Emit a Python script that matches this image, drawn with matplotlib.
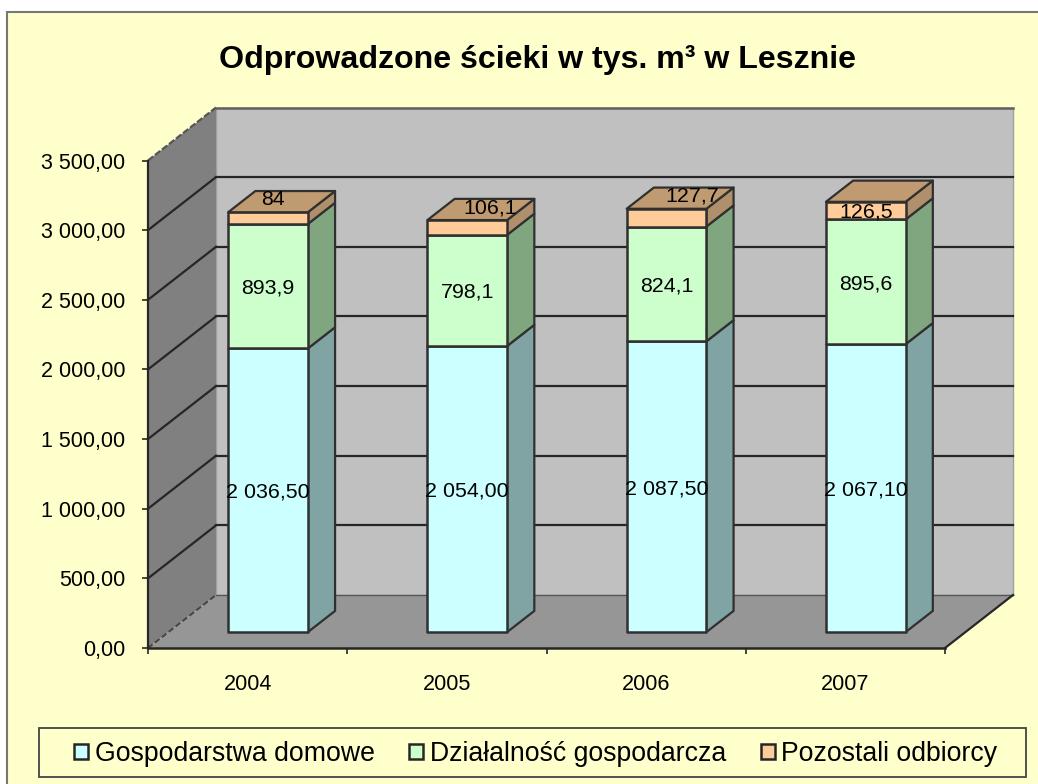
import matplotlib
matplotlib.use("Agg")
import matplotlib.pyplot as plt
from matplotlib.patches import Polygon, Rectangle, Patch
from matplotlib.transforms import Affine2D

plt.rcParams['font.family'] = ['Liberation Sans', 'DejaVu Sans']

years = ['2004', '2005', '2006', '2007']
series_names = ['Gospodarstwa domowe', 'Działalność gospodarcza', 'Pozostali odbiorcy']
domowe = [2036.5, 2054.0, 2087.5, 2067.1]
dzialalnosc = [893.9, 798.1, 824.1, 895.6]
pozostali = [84, 106.1, 127.7, 126.5]
labels_domowe = ['2 036,50', '2 054,00', '2 087,50', '2 067,10']
labels_dzial = ['893,9', '798,1', '824,1', '895,6']
labels_poz = ['84', '106,1', '127,7', '126,5']
y_ticks = [0, 500, 1000, 1500, 2000, 2500, 3000, 3500]
y_tick_labels = ['0,00', '500,00', '1 000,00', '1 500,00', '2 000,00', '2 500,00', '3 000,00', '3 500,00']
poz_label_shift = [(5, 19), (23, 19), (26, 22), (0, -1)]

W, H = 1038, 784
BG = '#FFFFCC'
fig = plt.figure(figsize=(W / 100, H / 100), dpi=100, facecolor='white')

# chart area
fig.add_artist(Rectangle((7 / W, -0.02), 1.1, (H - 12) / H + 0.02, transform=fig.transFigure,
                         fc=BG, ec='#777777', lw=1.5, zorder=-10))

ax = fig.add_axes([148 / W, (H - 648) / H, (945 - 148) / W, (648 - 160.5) / H])
ax.set_xlim(0, 4)
ax.set_ylim(0, 3500)
ax.patch.set_visible(False)
for s in ax.spines.values():
    s.set_visible(False)

DX, DY = 68, 53  # chart depth, display pixels


def depth(f):
    return ax.transData + Affine2D().translate(DX * f, DY * f)


def quad(x0, y0, f0, x1, y1, f1, x2, y2, f2, x3, y3, f3, **kw):
    pts = []
    for x, y, f in ((x0, y0, f0), (x1, y1, f1), (x2, y2, f2), (x3, y3, f3)):
        pts.append(depth(f).transform((x, y)))
    p = Polygon(pts, closed=True, transform=None, clip_on=False, **kw)
    fig.add_artist(p)
    return p


def seg(x0, y0, f0, x1, y1, f1, **kw):
    a = depth(f0).transform((x0, y0))
    b = depth(f1).transform((x1, y1))
    line = plt.Line2D([a[0], b[0]], [a[1], b[1]], transform=None, clip_on=False, **kw)
    fig.add_artist(line)


# walls and floor
ymax = y_ticks[-1]
quad(0, 0, 1, 4, 0, 1, 4, ymax, 1, 0, ymax, 1, fc='#C0C0C0', ec='#A0A0A0', lw=1, zorder=1)
quad(0, 0, 0, 0, 0, 1, 0, ymax, 1, 0, ymax, 0, fc='#808080', ec='none', zorder=1)
quad(0, 0, 0, 4, 0, 0, 4, 0, 1, 0, 0, 1, fc='#969696', ec='none', zorder=1)

# grid
grid_c = '#262626'
for t in y_ticks[1:-1]:
    seg(0, t, 0, 0, t, 1, color=grid_c, lw=1.6, zorder=2)
    seg(0, t, 1, 4, t, 1, color=grid_c, lw=1.6, zorder=2)
seg(0, ymax, 0, 0, ymax, 1, color='#555555', lw=1.6, ls=(0, (3, 1)), zorder=2)
seg(0, ymax, 1, 4, ymax, 1, color='#606060', lw=1.8, zorder=2)
seg(0, 0, 0, 0, 0, 1, color='#444444', lw=1.4, ls=(0, (3, 1.5)), zorder=2)
seg(0, 0, 1, 4, 0, 1, color='#555555', lw=1, zorder=2)
seg(4, 0, 0, 4, 0, 1, color='#262626', lw=1.6, zorder=2)
seg(0, 0, 0, 4, 0, 0, color='#262626', lw=1.8, zorder=2)
seg(0, 0, 0, 0, ymax, 0, color='#262626', lw=1.6, zorder=2)

# axis ticks and labels
ax.set_xticks(range(5))
ax.set_xticklabels([])
ax.set_yticks(y_ticks)
ax.set_yticklabels(y_tick_labels, fontsize=15.5, color='black')
ax.tick_params(axis='both', length=4.3, width=1.2, color='#262626')
ax.tick_params(axis='y', pad=12)
for x, lab in zip([0.5, 1.5, 2.5, 3.5], years):
    ax.annotate(lab, (x, 0), xytext=(0, -36), textcoords='offset pixels', ha='center', va='center',
                fontsize=15.6, annotation_clip=False)

# stacked bars
BAR_W = 0.4
F0, F1 = 0.30, 0.70
edge = '#303030'
front = ['#CCFFFF', '#CCFFCC', '#FFCC99']
side = ['#80A3A3', '#80A680', '#B0906C']
top_c = '#C09A70'
for i in range(len(years)):
    x0 = 0.5 + i - BAR_W / 2
    x1 = x0 + BAR_W
    base = 0
    for j, vals in enumerate((domowe, dzialalnosc, pozostali)):
        v = vals[i]
        quad(x1, base, F0, x1, base, F1, x1, base + v, F1, x1, base + v, F0,
             fc=side[j], ec=edge, lw=1.6, zorder=3, joinstyle='round')
        quad(x0, base, F0, x1, base, F0, x1, base + v, F0, x0, base + v, F0,
             fc=front[j], ec=edge, lw=1.8, zorder=3, joinstyle='round')
        base += v
    quad(x0, base, F0, x1, base, F0, x1, base, F1, x0, base, F1,
         fc=top_c, ec=edge, lw=1.6, zorder=3, joinstyle='round')

    # data labels
    xc = (x0 + x1) / 2
    labels = (labels_domowe[i], labels_dzial[i], labels_poz[i])
    b = 0
    for j, vals in enumerate((domowe, dzialalnosc, pozostali)):
        v = vals[i]
        sx, sy = poz_label_shift[i] if j == 2 else (0, -2)
        px, py = depth(F0).transform((xc, b + v / 2))
        fig.text((px + sx) / W, (py + sy) / H, labels[j], ha='center', va='center',
                 fontsize=15.4, color='black', zorder=5)
        b += v

# title
fig.text(538 / W, (H - 60) / H, 'Odprowadzone ścieki w tys. m³ w Lesznie', ha='center', va='center',
         fontsize=23.1, fontweight='bold', color='black')

# legend
fig.add_artist(Rectangle((39 / W, (H - 777) / H), (1026 - 39) / W, 49 / H, transform=fig.transFigure,
                         fc=BG, ec='#444444', lw=1.3, zorder=4))
handles = [Patch(fc=c, ec='#262626', lw=1.8) for c in front]
leg = fig.legend(handles, series_names, ncol=3, loc='center', bbox_to_anchor=(536 / W, (H - 754) / H),
                 frameon=False, fontsize=19.2, handlelength=0.52, handleheight=0.52,
                 handletextpad=0.25, columnspacing=1.3, borderpad=0, borderaxespad=0)
leg.set_zorder(6)

fig.savefig('out.png', dpi=100, facecolor='white')
